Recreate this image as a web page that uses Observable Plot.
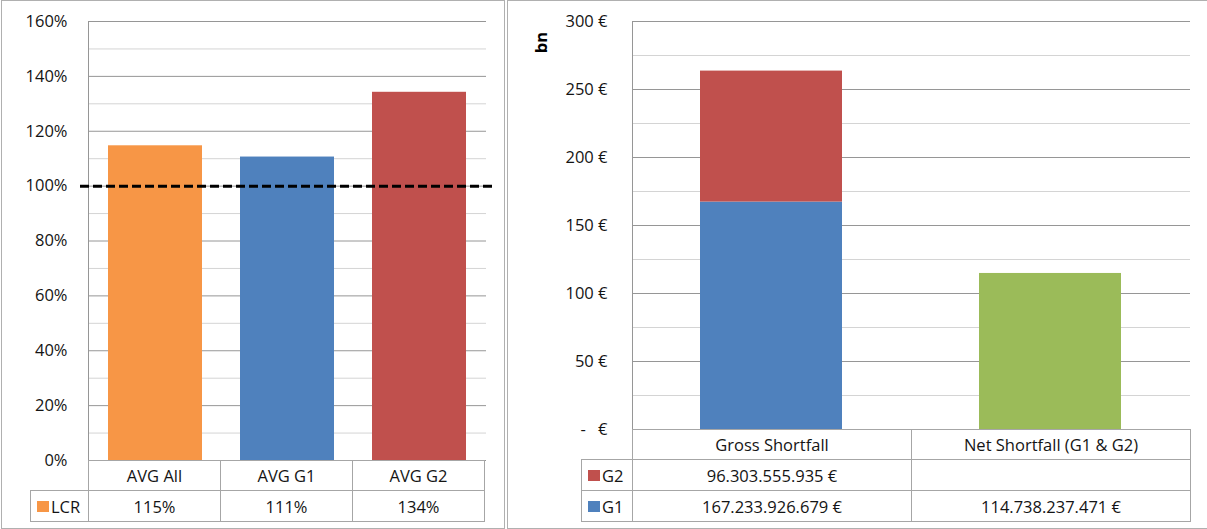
<!DOCTYPE html>
<html>
<head>
<meta charset="utf-8">
<script src="https://cdn.jsdelivr.net/npm/d3@7"></script>
<script src="https://cdn.jsdelivr.net/npm/@observablehq/plot@0.6"></script>
<style>
  html, body { margin: 0; padding: 0; background: #fff; }
  #root { position: relative; width: 1207px; height: 529px; overflow: hidden; font-family: "Open Sans", sans-serif; font-size: 16.5px; color: #141414; }
  .panel { position: absolute; box-sizing: border-box; border: 1px solid #b0b0b0; }
  .cell { position: absolute; box-sizing: border-box; border: 1px solid #a6a6a6; display: flex; align-items: center; justify-content: center; white-space: nowrap; }
  .cell.legend { justify-content: flex-start; padding-left: 6px; }
  .sw { display: inline-block; width: 12px; height: 11px; margin-right: 2px; }
  .abs { position: absolute; top: 0; }
</style>
</head>
<body>
<div id="root"></div>
<script>
// ---------- DATA ----------
const leftCategories = ["AVG All", "AVG G1", "AVG G2"];
const lcrValues = [1.147, 1.106, 1.342];
const lcrThreshold = [1.0];
const leftMajorTicks = [0, 0.2, 0.4, 0.6, 0.8, 1.0, 1.2, 1.4, 1.6];
const leftMinorTicks = [0.1, 0.3, 0.5, 0.7, 0.9, 1.1, 1.3, 1.5];

const rightCategories = ["Gross Shortfall", "Net Shortfall (G1 & G2)"];
const seriesNames = ["G1", "G2"];
const g1Values = [167.233926679, 114.738237471]; // bn €
const g2Values = [96.303555935, null];           // bn €
const rightMajorTicks = [0, 50, 100, 150, 200, 250, 300];
const rightMinorTicks = [25, 75, 125, 175, 225, 275];

// ---------- STYLES ----------
const leftColors = ["#F79646", "#4F81BD", "#C0504D"];
const seriesColors = {G1: "#4F81BD", G2: "#C0504D"};
const netColor = "#9BBB59";
const majorGrid = "#969696";
const minorGrid = "#d4d4d4";
const fontStyle = {fontFamily: "'Open Sans', sans-serif", fontSize: "16.5px", color: "#141414", background: "transparent", overflow: "visible"};

const root = document.getElementById("root");
const eur = d3.formatLocale({decimal: ",", thousands: ".", grouping: [3], currency: ["", "\u00a0€"]});
const fmtBig = v => eur.format(",.0f")(Math.round(v * 1e9)) + " €";

function panel(left, top, width, height) {
  const p = document.createElement("div");
  p.className = "panel";
  Object.assign(p.style, {left: left + "px", top: top + "px", width: width + "px", height: height + "px"});
  root.appendChild(p);
}
function cell(x0, y0, x1, y1, content, legendColor) {
  const c = document.createElement("div");
  c.className = "cell" + (legendColor ? " legend" : "");
  Object.assign(c.style, {left: x0 + "px", top: y0 + "px", width: (x1 - x0 + 1) + "px", height: (y1 - y0 + 1) + "px"});
  if (legendColor) {
    const s = document.createElement("span");
    s.className = "sw";
    s.style.background = legendColor;
    c.appendChild(s);
  }
  c.appendChild(document.createTextNode(content));
  root.appendChild(c);
}
function place(svg, left) {
  svg.classList.add("abs");
  svg.style.left = left + "px";
  root.appendChild(svg);
}

panel(1, 0, 504, 529);
panel(507, 0, 702, 529);

// ---------- LEFT CHART ----------
const leftData = leftCategories.map((c, i) => ({cat: c, value: lcrValues[i], color: leftColors[i]}));
const leftPlot = Plot.plot({
  width: 504, height: 470,
  marginLeft: 88, marginRight: 18, marginTop: 21, marginBottom: 10,
  style: fontStyle,
  x: {type: "band", domain: leftCategories, paddingInner: 0.286, paddingOuter: 0.143, axis: null},
  y: {domain: [0, 1.6]},
  color: {type: "identity"},
  marks: [
    Plot.ruleY(leftMinorTicks, {stroke: minorGrid, strokeWidth: 1}),
    Plot.ruleY(leftMajorTicks, {stroke: majorGrid, strokeWidth: 1}),
    Plot.frame({anchor: "left", stroke: majorGrid}),
    Plot.barY(leftData, {x: "cat", y: "value", fill: "color"}),
    Plot.ruleY(lcrThreshold, {stroke: "#000", strokeWidth: 3, strokeDasharray: "9,4", insetLeft: -8, insetRight: -9}),
    Plot.axisY({ticks: leftMajorTicks, tickFormat: d => Math.round(d * 100) + "%", tickSize: 0, tickPadding: 21, label: null})
  ]
});
place(leftPlot, 0);

const lx = leftPlot.scale("x");
const lStep = lx.step;
const lx0 = lx.range[0];
const leftRows = [460, 490, 521];
leftCategories.forEach((c, i) => {
  const a = Math.round(lx0 + i * lStep), b = Math.round(lx0 + (i + 1) * lStep);
  cell(a, leftRows[0], b, leftRows[1], c);
  cell(a, leftRows[1], b, leftRows[2], Math.round(lcrValues[i] * 100) + "%");
});
cell(30, leftRows[1], Math.round(lx0), leftRows[2], "LCR", leftColors[0]);

// ---------- RIGHT CHART ----------
const rightData = [];
rightCategories.forEach((c, i) => {
  rightData.push({cat: c, series: "G1", value: g1Values[i]});
  if (g2Values[i] != null) rightData.push({cat: c, series: "G2", value: g2Values[i]});
});
const rightPlot = Plot.plot({
  width: 700, height: 440,
  marginLeft: 125, marginRight: 17, marginTop: 21, marginBottom: 11,
  style: fontStyle,
  x: {type: "band", domain: rightCategories, paddingInner: 0.491, paddingOuter: 0.2455, axis: null},
  y: {domain: [0, 300]},
  color: {type: "identity"},
  marks: [
    Plot.ruleY(rightMinorTicks, {stroke: minorGrid, strokeWidth: 1}),
    Plot.ruleY(rightMajorTicks, {stroke: majorGrid, strokeWidth: 1}),
    Plot.frame({anchor: "left", stroke: majorGrid}),
    Plot.barY(rightData, {x: "cat", y: "value", fill: d => d.cat === rightCategories[1] ? netColor : seriesColors[d.series]}),
    Plot.axisY({ticks: rightMajorTicks, tickFormat: d => d === 0 ? "-\u2002\u2005€" : d + " €", tickSize: 0, tickPadding: 25, label: null}),
    Plot.text(["bn"], {frameAnchor: "top-left", textAnchor: "middle", lineAnchor: "middle", rotate: -90, dx: -91, dy: 21, fontWeight: "bold", fontSize: 16.5, fill: "#000"})
  ]
});
place(rightPlot, 507);

const rx = rightPlot.scale("x");
const rStep = rx.step;
const rx0 = rx.range[0] + 507;
const rightRows = [429, 459, 490, 521];
rightCategories.forEach((c, i) => {
  const a = Math.round(rx0 + i * rStep), b = Math.round(rx0 + (i + 1) * rStep);
  cell(a, rightRows[0], b, rightRows[1], c);
  cell(a, rightRows[1], b, rightRows[2], g2Values[i] == null ? "" : fmtBig(g2Values[i]));
  cell(a, rightRows[2], b, rightRows[3], fmtBig(g1Values[i]));
});
cell(581, rightRows[1], Math.round(rx0), rightRows[2], "G2", seriesColors.G2);
cell(581, rightRows[2], Math.round(rx0), rightRows[3], "G1", seriesColors.G1);
</script>
</body>
</html>
